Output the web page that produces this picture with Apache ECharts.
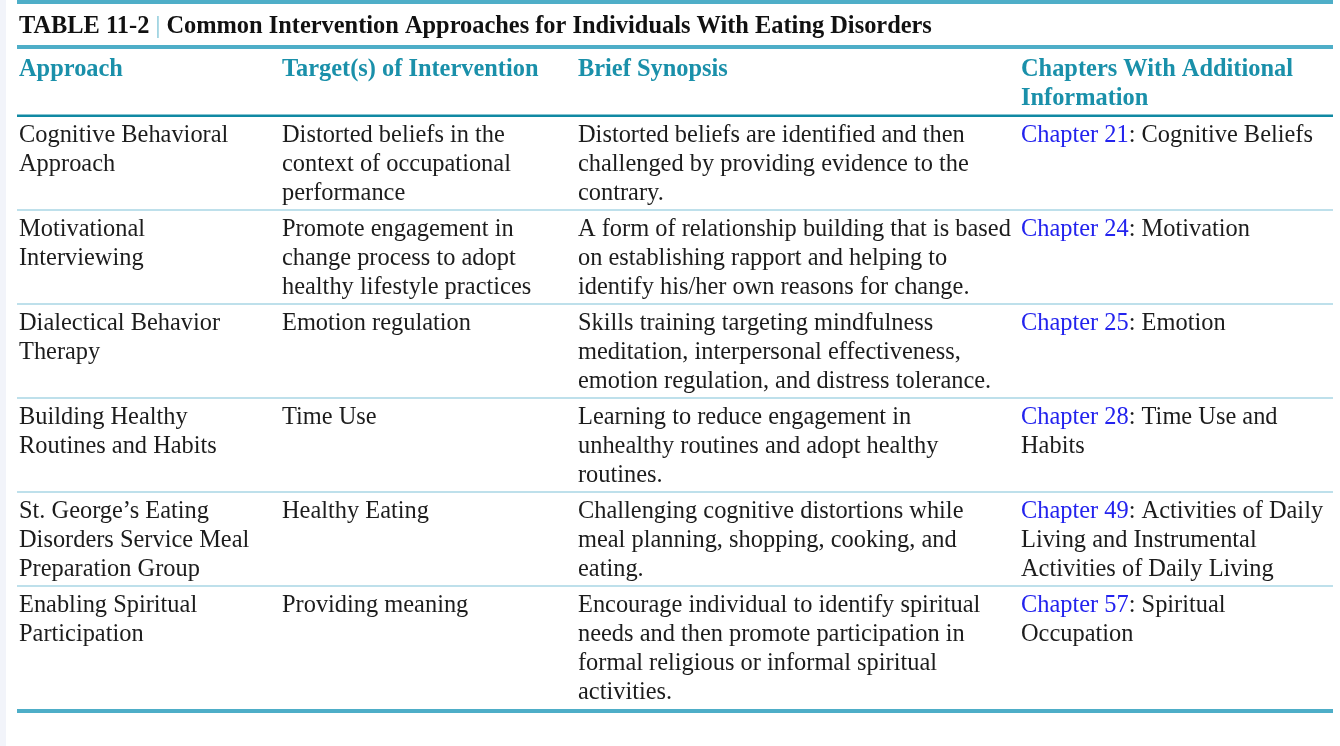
<!DOCTYPE html>
<html>
<head>
<meta charset="utf-8">
<script src="https://cdn.jsdelivr.net/npm/echarts@6/dist/echarts.min.js"></script>
<style>
html,body{margin:0;padding:0;background:#fff;}
#main{width:1340px;height:746px;}
</style>
</head>
<body>
<div id="main"></div>
<script>
// ---- data ----
var tableNumber = 'TABLE 11-2';
var tableTitle = 'Common Intervention Approaches for Individuals With Eating Disorders';
var headers = ['Approach', 'Target(s) of Intervention', 'Brief Synopsis', 'Chapters With Additional\nInformation'];
var approaches = [
  'Cognitive Behavioral\nApproach',
  'Motivational\nInterviewing',
  'Dialectical Behavior\nTherapy',
  'Building Healthy\nRoutines and Habits',
  'St. George\u2019s Eating\nDisorders Service Meal\nPreparation Group',
  'Enabling Spiritual\nParticipation'
];
var targets = [
  'Distorted beliefs in the\ncontext of occupational\nperformance',
  'Promote engagement in\nchange process to adopt\nhealthy lifestyle practices',
  'Emotion regulation',
  'Time Use',
  'Healthy Eating',
  'Providing meaning'
];
var synopses = [
  'Distorted beliefs are identified and then\nchallenged by providing evidence to the\ncontrary.',
  'A form of relationship building that is based\non establishing rapport and helping to\nidentify his/her own reasons for change.',
  'Skills training targeting mindfulness\nmeditation, interpersonal effectiveness,\nemotion regulation, and distress tolerance.',
  'Learning to reduce engagement in\nunhealthy routines and adopt healthy\nroutines.',
  'Challenging cognitive distortions while\nmeal planning, shopping, cooking, and\neating.',
  'Encourage individual to identify spiritual\nneeds and then promote participation in\nformal religious or informal spiritual\nactivities.'
];
var chapterLinks = ['Chapter 21', 'Chapter 24', 'Chapter 25', 'Chapter 28', 'Chapter 49', 'Chapter 57'];
var chapterTitles = [
  ': Cognitive Beliefs',
  ': Motivation',
  ': Emotion',
  ': Time Use and\nHabits',
  ': Activities of Daily\nLiving and Instrumental\nActivities of Daily Living',
  ': Spiritual\nOccupation'
];

// ---- layout / style ----
var FONT = '"Liberation Serif", "Times New Roman", serif';
var FS = 24.4, LH = 29, PAD = 7;
var colX = [19, 282, 578, 1021];
var tableLeft = 17, tableRight = 1333;
var headerBottom = 116;
var teal = '#4eaec8', tealDark = '#1089a3', sepColor = '#a9d6e4', headColor = '#1a90aa', linkColor = '#2323ee', textColor = '#1c1c1c';

function nLines(s){ return s.split('\n').length; }
var rowTops = [], y = headerBottom;
for (var i = 0; i < approaches.length; i++) {
  rowTops.push(y);
  var n = Math.max(nLines(approaches[i]), nLines(targets[i]), nLines(synopses[i]), nLines(chapterTitles[i]));
  y += n * LH + PAD;
}
var tableBottom = y;

function chapterRich(i){
  var parts = chapterTitles[i].split('\n');
  var s = '{a|' + chapterLinks[i] + '}{b|' + parts[0] + '}';
  for (var k = 1; k < parts.length; k++) s += '\n{b|' + parts[k] + '}';
  return s;
}

var rowData = approaches.map(function(a, i){ return [i]; });
var headY = 55.5;

var chart = echarts.init(document.getElementById('main'), null, {renderer: 'canvas'});
chart.setOption({
  backgroundColor: '#ffffff',
  animation: false,
  graphic: [
    {type: 'rect', shape: {x: 0, y: 0, width: 6, height: 746}, style: {fill: '#f2f4fa'}, silent: true},
    {type: 'rect', shape: {x: tableLeft, y: 0, width: tableRight - tableLeft, height: 4}, style: {fill: teal}},
    {type: 'text', x: 19, y: 26.5, style: {
      text: '{t|' + tableNumber + '}{p| | }{t|' + tableTitle + '}',
      verticalAlign: 'middle',
      rich: {
        t: {fontFamily: FONT, fontSize: FS, fontWeight: 'bold', fill: '#111'},
        p: {fontFamily: FONT, fontSize: FS, fill: '#7cc3d6'}
      }
    }},
    {type: 'rect', shape: {x: tableLeft, y: 45, width: tableRight - tableLeft, height: 4}, style: {fill: teal}},
    {type: 'text', x: colX[0], y: headY, style: {text: headers[0], fontFamily: FONT, fontSize: FS, fontWeight: 'bold', fill: headColor, lineHeight: LH}},
    {type: 'text', x: colX[1], y: headY, style: {text: headers[1], fontFamily: FONT, fontSize: FS, fontWeight: 'bold', fill: headColor, lineHeight: LH}},
    {type: 'text', x: colX[2], y: headY, style: {text: headers[2], fontFamily: FONT, fontSize: FS, fontWeight: 'bold', fill: headColor, lineHeight: LH}},
    {type: 'text', x: colX[3], y: headY, style: {text: headers[3], fontFamily: FONT, fontSize: FS, fontWeight: 'bold', fill: headColor, lineHeight: LH}},
    {type: 'rect', shape: {x: tableLeft, y: headerBottom - 1.5, width: tableRight - tableLeft, height: 2.5}, style: {fill: tealDark}},
    {type: 'rect', shape: {x: tableLeft, y: tableBottom, width: tableRight - tableLeft, height: 4}, style: {fill: teal}}
  ],
  series: [{
    type: 'custom',
    coordinateSystem: 'none',
    data: rowData,
    renderItem: function(params, api){
      var i = params.dataIndex;
      var top = rowTops[i];
      var ty = top + 5.5;
      var base = {fontFamily: FONT, fontSize: FS, fill: textColor, lineHeight: LH};
      var children = [];
      if (i > 0) {
        children.push({type: 'rect', shape: {x: tableLeft, y: top - 0.75, width: tableRight - tableLeft, height: 1.6}, style: {fill: sepColor}});
      }
      [approaches[i], targets[i], synopses[i]].forEach(function(t, c){
        children.push({type: 'text', x: colX[c], y: ty, style: Object.assign({text: t}, base)});
      });
      children.push({type: 'text', x: colX[3], y: ty, style: {
        text: chapterRich(i),
        rich: {
          a: {fontFamily: FONT, fontSize: FS, fill: linkColor, lineHeight: LH},
          b: {fontFamily: FONT, fontSize: FS, fill: textColor, lineHeight: LH}
        }
      }});
      return {type: 'group', children: children};
    }
  }]
});
</script>
</body>
</html>
